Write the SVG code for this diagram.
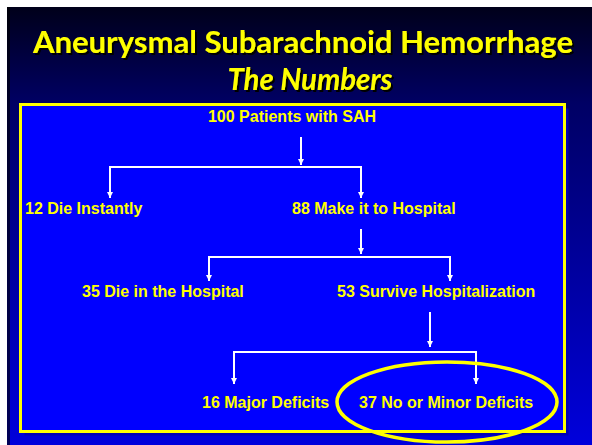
<svg xmlns="http://www.w3.org/2000/svg" width="592" height="445" viewBox="0 0 592 445">
<defs>
<linearGradient id="bg" x1="0" y1="0" x2="0" y2="1">
<stop offset="0" stop-color="#00001a"/>
<stop offset="0.22" stop-color="#000064"/>
<stop offset="1" stop-color="#0000dc"/>
</linearGradient>
<filter id="ds" x="-5%" y="-20%" width="110%" height="150%">
<feDropShadow dx="2" dy="2" stdDeviation="0.6" flood-color="#000000" flood-opacity="1"/>
</filter>
<marker id="ah" viewBox="0 0 6 6" refX="6" refY="3" markerWidth="6" markerHeight="6" markerUnits="userSpaceOnUse" orient="auto">
<path d="M0,0 L6,3 L0,6 z" fill="#ffffff"/>
</marker>
<style>
.title{font-family:"Lato","Open Sans","Liberation Sans",sans-serif;font-weight:bold;font-size:30px;fill:#ffff00;filter:url(#ds);}
.lbl{font-family:"Liberation Sans",Arial,sans-serif;font-weight:bold;font-size:16px;fill:#ffff00;}
.ln{stroke:#ffffff;stroke-width:2;fill:none;}
.arr{stroke:#ffffff;stroke-width:2;fill:none;marker-end:url(#ah);}
</style>
</defs>
<rect x="0" y="0" width="592" height="445" fill="#ffffff"/>
<rect x="7" y="7" width="585" height="438" fill="url(#bg)"/>
<rect x="7" y="7" width="3" height="438" fill="#000000" opacity="0.6"/>

<g id="title">
<text class="title" x="303" y="53" text-anchor="middle" textLength="540" lengthAdjust="spacingAndGlyphs">Aneurysmal Subarachnoid Hemorrhage</text>
<text class="title" x="310" y="90" font-style="italic" text-anchor="middle" textLength="165" lengthAdjust="spacingAndGlyphs">The Numbers</text>
</g>

<g id="panel">
<rect x="24.5" y="108.5" width="544" height="327" fill="#0000b4"/>
<rect x="20.5" y="104.5" width="544" height="327" fill="#0000ff" stroke="#ffff00" stroke-width="3"/>
</g>

<g id="connectors">
<path class="arr" d="M301,137 V165"/>
<path class="ln" d="M110,167 H361"/>
<path class="arr" d="M110,166 V198"/>
<path class="arr" d="M361,166 V198"/>
<path class="arr" d="M361,229 V254"/>
<path class="ln" d="M209,257 H450"/>
<path class="arr" d="M209,256 V281"/>
<path class="arr" d="M450,256 V281"/>
<path class="arr" d="M430,312 V347"/>
<path class="ln" d="M234,352 H476"/>
<path class="arr" d="M234,351 V384"/>
<path class="arr" d="M476,351 V384"/>
</g>

<g id="n100"><text class="lbl" x="292" y="122" text-anchor="middle">100 Patients with SAH</text></g>
<g id="n12"><text class="lbl" x="25" y="214">12 Die Instantly</text></g>
<g id="n88"><text class="lbl" x="292" y="214">88 Make it to Hospital</text></g>
<g id="n35"><text class="lbl" x="82" y="297">35 Die in the Hospital</text></g>
<g id="n53"><text class="lbl" x="337" y="297">53 Survive Hospitalization</text></g>
<g id="n16"><text class="lbl" x="202" y="408">16 Major Deficits</text></g>
<g id="n37"><text class="lbl" x="359" y="408">37 No or Minor Deficits</text></g>

<g id="highlight">
<ellipse cx="447" cy="402" rx="110" ry="40" fill="none" stroke="#ffff00" stroke-width="3.5"/>
</g>
</svg>
